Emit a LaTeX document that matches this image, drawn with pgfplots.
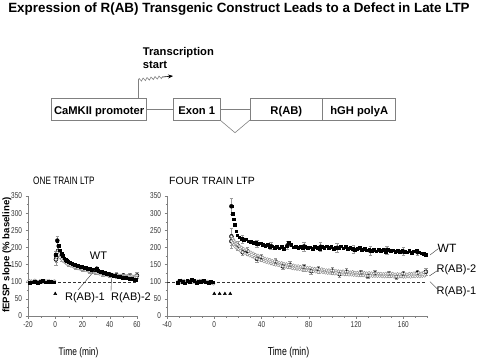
\documentclass[border=0pt]{standalone}
\usepackage{fontspec}
\setmainfont{Liberation Sans}
\newfontfamily\narrow{Liberation Sans}[FakeStretch=0.76]
\usepackage{pgfplots}
\pgfplotsset{compat=1.18}
\usetikzlibrary{decorations.pathmorphing,arrows.meta}
\definecolor{axgray}{HTML}{808080}
\definecolor{ptgray}{HTML}{8A8A8A}
\definecolor{ebgray}{HTML}{9A9A9A}
\definecolor{txtgray}{HTML}{333333}
\begin{document}
\begin{tikzpicture}
\useasboundingbox (0,0) rectangle (480pt,-360pt);
\pgfplotsset{
  ltp/.style={
    scale only axis, height=120pt, ymin=0, ymax=350,
    axis lines*=left, axis line style={axgray, -},
    ytick={0,50,...,350}, minor ytick={25,75,...,325},
    tick align=outside, major tick length=2.5pt, minor tick length=1.5pt,
    tick style={axgray, line width=0.4pt},
    ticklabel style={font=\narrow\fontsize{8.5}{9}\selectfont, text=txtgray},
    /pgf/number format/assume math mode=true,
    clip=false, anchor=south west,
  },
  wt/.style={only marks, mark=square*, mark size=1.35pt, black},
  rab/.style={only marks, mark=*, mark size=1.45pt, draw=ptgray, fill=white, mark options={line width=0.4pt}},
  eb/.style={only marks, mark=none, error bars/.cd, y dir=both, y explicit, error bar style={ebgray, line width=0.45pt}, error mark options={ebgray, mark size=1.7pt, rotate=90}},
}
% ---------------- ONE TRAIN LTP ----------------
\begin{axis}[ltp, at={(28pt,-316pt)}, width=109pt, xmin=-20, xmax=60,
  xtick={-20,0,...,60}, minor xtick={-10,10,...,50}]
\addplot[densely dashed, txtgray, line width=0.4pt] coordinates {(-20,100) (60,100)};
% error bars
\addplot[eb] coordinates {(0.5,165) +- (0,18) (1,172) +- (0,15) (2,190) +- (0,14) (5,169) +- (0,8) (10,153) +- (0,7) (15,144) +- (0,7) (20,138) +- (0,7) (25,133) +- (0,7) (30,128) +- (0,7) (35,124) +- (0,8) (40,121) +- (0,8) (45,119) +- (0,8) (50,118) +- (0,8) (55,117) +- (0,9) (60,118) +- (0,9)};
\addplot[eb] coordinates {(1.5,220) +- (0,14) (0.5,178) +- (0,10) (30.5,138) +- (0,4)};
% R(AB)-2
\addplot[rab] coordinates {(-19.5,99) (-18.5,100) (-17.5,102) (-16.5,98) (-15.5,101) (-14.5,103) (-13.5,100) (-12.5,99) (-11.5,102) (-10.5,101) (-9.5,98) (-8.5,100) (-7.5,102) (-6.5,99) (-5.5,101) (-4.5,103) (-3.5,100) (-2.5,98) (-1.5,101) (-0.5,102)
(1,172) (2,190) (3,182) (4,175) (5,169) (6,164) (7,160) (8,157) (9,155) (10,153) (11,151) (12,149) (13,147) (14,146) (15,144) (16,143) (17,141) (18,140) (19,139) (20,138) (21,137) (22,136) (23,135) (24,134) (25,133) (26,132) (27,131) (28,130) (29,129) (30,128) (31,127) (32,127) (33,126) (34,125) (35,124) (36,124) (37,123) (38,122) (39,122) (40,121) (41,121) (42,120) (43,120) (44,119) (45,119) (46,119) (47,118) (48,118) (49,118) (50,118) (51,117) (52,117) (53,117) (54,117) (55,117) (56,117) (57,116) (58,116) (59,117) (60,118)};
% R(AB)-1
\addplot[rab] coordinates {(-20,101) (-19,103) (-18,100) (-17,99) (-16,102) (-15,104) (-14,101) (-13,100) (-12,98) (-11,102) (-10,103) (-9,100) (-8,99) (-7,101) (-6,102) (-5,100) (-4,98) (-3,101) (-2,99) (-1,100)
(0.5,165) (1.5,185) (2.5,178) (3.5,171) (4.5,166) (5.5,161) (6.5,158) (7.5,155) (8.5,152) (9.5,150) (10.5,148) (11.5,146) (12.5,145) (13.5,143) (14.5,142) (15.5,141) (16.5,139) (17.5,138) (18.5,137) (19.5,136) (20.5,135) (21.5,134) (22.5,133) (23.5,132) (24.5,131) (25.5,130) (26.5,129) (27.5,128) (28.5,127) (29.5,126) (30.5,125) (31.5,124) (32.5,123) (33.5,123) (34.5,122) (35.5,121) (36.5,120) (37.5,120) (38.5,119) (39.5,118) (40.5,118) (41.5,117) (42.5,117) (43.5,116) (44.5,116) (45.5,116) (46.5,115) (47.5,115) (48.5,115) (49.5,114) (50.5,114) (51.5,114) (52.5,114) (53.5,113) (54.5,113) (55.5,113) (56.5,113) (57.5,112) (58.5,112) (59.5,112)};
% WT
\addplot[wt] coordinates {(-19,97) (-17,99) (-15,101) (-13,98) (-11,100) (-9,102) (-7,99) (-5,100) (-3,101) (-1,99)
(0.5,178) (1.5,220) (2.5,205) (3.5,192) (4.5,182) (5.5,175) (6.5,169) (7.5,165) (8.5,161) (9.5,159) (10.5,157) (11.5,154) (12.5,152) (13.5,151) (14.5,149) (15.5,148) (16.5,147) (17.5,145) (18.5,144) (19.5,143) (20.5,142) (21.5,141) (22.5,140) (23.5,139) (24.5,138) (25.5,138) (26.5,136) (27.5,135) (28.5,135) (29.5,136) (30.5,138) (31.5,133) (32.5,131) (33.5,130) (34.5,129) (35.5,127) (36.5,126) (37.5,124) (38.5,123) (39.5,122) (40.5,120) (41.5,119) (42.5,118) (43.5,117) (44.5,116) (45.5,116) (46.5,115) (47.5,114) (48.5,113) (49.5,112) (50.5,112) (51.5,111) (52.5,110) (53.5,110) (54.5,109) (55.5,108) (56.5,108) (57.5,107) (58.5,106) (59.5,105)};
% tetanus
\addplot[only marks, mark=triangle*, mark size=1.7pt, black] coordinates {(0,65)};
\end{axis}
% ---------------- FOUR TRAIN LTP ----------------
\begin{axis}[ltp, at={(167pt,-316pt)}, width=260pt, xmin=-40, xmax=180,
  xtick={-40,0,...,160}, minor xtick={-30,-20,...,180}]
\addplot[densely dashed, txtgray, line width=0.4pt] coordinates {(-40,100) (180,100)};
% error bars
\addplot[eb] coordinates {(14.5,232) +- (0,25) (20,205) +- (0,14) (28,189) +- (0,12) (40,170) +- (0,10) (52,158) +- (0,10) (64,149) +- (0,10) (76,142) +- (0,10) (88,136) +- (0,10) (100,132) +- (0,10) (112,129) +- (0,10) (124,126) +- (0,9) (136,124) +- (0,9) (148,123) +- (0,9) (160,123) +- (0,9) (172,126) +- (0,9) (179,129) +- (0,10)};
\addplot[eb] coordinates {(14.5,218) +- (0,20) (24,186) +- (0,10) (36,167) +- (0,9) (58,145) +- (0,9) (82,131) +- (0,8) (106,122) +- (0,8) (130,117) +- (0,8) (154,115) +- (0,8)};
\addplot[eb] coordinates {(14.5,320) +- (0,24) (24,224) +- (0,12) (36,210) +- (0,10) (48,204) +- (0,10) (62,206) +- (0,12) (76,203) +- (0,13) (90,202) +- (0,12) (104,199) +- (0,12) (118,194) +- (0,12) (132,190) +- (0,14) (146,193) +- (0,12) (160,188) +- (0,12) (172,186) +- (0,10)};
% R(AB)-2
\addplot[rab] coordinates {(-31,101) (-30,103) (-29,99) (-28,104) (-27,102) (-26,98) (-25,101) (-24,100) (-23,103) (-22,99) (-21,102) (-20,104) (-19,100) (-18,101) (-17,99) (-16,103) (-15,100) (-14,102) (-13,98) (-12,101) (-11,103) (-10,99) (-9,100) (-8,102) (-7,101) (-6,98) (-5,100) (-4,99) (-3,97) (-2,96) (-1,95)
(14.5,232) (15.5,226) (16.5,221) (17.5,216) (18.5,212) (19.5,208) (21,204) (23,200) (25,196) (27,193) (29,189) (31,186) (33,183) (35,179) (37,177) (39,173) (41,171) (43,168) (45,166) (47,164) (49,161) (51,160) (53,158) (55,156) (57,155) (59,153) (61,152) (63,150) (65,149) (67,148) (69,146) (71,146) (73,144) (75,143) (77,142) (79,141) (81,141) (83,139) (85,138) (87,138) (89,136) (91,137) (93,135) (95,134) (97,134) (99,133) (101,132) (103,132) (105,131) (107,130) (109,131) (111,129) (113,129) (115,128) (117,129) (119,127) (121,127) (123,126) (125,127) (127,126) (129,125) (131,126) (133,125) (135,124) (137,125) (139,124) (141,124) (143,123) (145,124) (147,123) (149,124) (151,124) (153,122) (155,123) (157,122) (159,124) (161,123) (163,122) (165,124) (167,123) (169,125) (171,124) (173,126) (175,125) (177,127) (179,129)};
% R(AB)-1
\addplot[rab] coordinates {(-30.5,99) (-29.5,102) (-28.5,100) (-27.5,97) (-26.5,101) (-25.5,103) (-24.5,99) (-23.5,100) (-22.5,102) (-21.5,98) (-20.5,101) (-19.5,103) (-18.5,99) (-17.5,100) (-16.5,102) (-15.5,101) (-14.5,98) (-13.5,100) (-12.5,103) (-11.5,99) (-10.5,101) (-9.5,102) (-8.5,99) (-7.5,100) (-6.5,98) (-5.5,101) (-4.5,99) (-3.5,97) (-2.5,98) (-1.5,96) (-0.5,94)
(14.5,218) (15.5,213) (16.5,208) (17.5,203) (18.5,199) (19.5,196) (20.5,194) (22,190) (24,186) (26,183) (28,179) (30,176) (32,173) (34,170) (36,167) (38,164) (40,162) (42,159) (44,157) (46,155) (48,153) (50,151) (52,149) (54,148) (56,146) (58,145) (60,143) (62,142) (64,141) (66,139) (68,138) (70,137) (72,136) (74,135) (76,134) (78,133) (80,132) (82,131) (84,130) (86,129) (88,128) (90,128) (92,127) (94,126) (96,125) (98,125) (100,124) (102,123) (104,123) (106,122) (108,122) (110,121) (112,121) (114,120) (116,120) (118,119) (120,119) (122,118) (124,118) (126,118) (128,117) (130,117) (132,117) (134,116) (136,116) (138,116) (140,116) (142,115) (144,115) (146,115) (148,115) (150,116) (152,114) (154,115) (156,114) (158,115) (160,114) (162,114) (164,115) (166,114) (168,115) (170,115) (172,116) (174,115) (176,116) (178,117)};
% WT
\addplot[wt] coordinates {(-31,98) (-29,104) (-27,101) (-25,96) (-23,103) (-21,100) (-19,105) (-17,102) (-15,97) (-13,101) (-11,100) (-9,103) (-7,99) (-5,98) (-3,101) (-1,99)
(14.5,320) (15.5,298) (16.5,282) (17.5,266) (18.5,247) (19.5,236) (21,230) (23,226) (25,222) (27,224) (29,218) (31,216) (33,214) (35,215) (37,210) (39,212) (41,207) (43,205) (45,209) (47,201) (49,204) (51,200) (53,203) (55,198) (57,202) (59,197) (61,204) (63,214) (65,208) (67,201) (69,203) (71,199) (73,202) (75,198) (77,203) (79,200) (81,201) (83,197) (85,203) (87,200) (89,197) (91,202) (93,199) (95,204) (97,200) (99,203) (101,196) (103,200) (105,198) (107,204) (109,198) (111,202) (113,196) (115,200) (117,197) (119,193) (121,196) (123,199) (125,193) (127,197) (129,192) (131,195) (133,190) (135,194) (137,189) (139,193) (141,190) (143,194) (145,188) (147,193) (149,190) (151,192) (153,188) (155,191) (157,187) (159,190) (161,188) (163,186) (165,190) (167,185) (169,189) (171,191) (173,186) (175,183) (177,181) (179,178)};
% tetanus trains
\addplot[only marks, mark=triangle*, mark size=1.7pt, black] coordinates {(0,65) (4.5,65) (9,65) (13.5,65)};
\end{axis}
% ---------------- texts and construct diagram ----------------
\begin{scope}[x=1pt, y=-1pt]
\node[anchor=base, font=\bfseries\fontsize{13.4}{15}\selectfont, inner sep=0pt] at (239,12.7) {Expression of R(AB) Transgenic Construct Leads to a Defect in Late LTP};
% construct
\begin{scope}[axgray, line width=0.6pt]
\draw (51.7,98.3) rectangle (146.7,120);
\draw (146.7,109.3) -- (173.3,109.3);
\draw (173.3,98.3) rectangle (220,120);
\draw (220,109.3) -- (250,109.3);
\draw (220,120) -- (235,132.7) -- (250,120);
\draw (250,98.3) rectangle (322.7,120);
\draw (322.7,98.3) rectangle (395.7,120);
\draw (138.3,98.3) -- (138.3,80);
\draw[decorate, decoration={zigzag, segment length=4pt, amplitude=1.4pt}] (138.3,80) -- (163,77);
\end{scope}
\draw[black, line width=0.6pt, -{Stealth[length=5pt,width=4pt]}] (162.5,77) -- (173,76);
\begin{scope}[font=\bfseries\fontsize{11.2}{13}\selectfont, inner sep=0pt]
\node[anchor=base west] at (142.7,55) {Transcription};
\node[anchor=base west] at (142.7,68.3) {start};
\node[anchor=base] at (99.2,114) {CaMKII promoter};
\node[anchor=base] at (196.7,114) {Exon 1};
\node[anchor=base] at (286.3,114) {R(AB)};
\node[anchor=base] at (359.2,114) {hGH polyA};
\end{scope}
% panel titles
\node[anchor=west, inner sep=0pt, font=\narrow\fontsize{10.8}{12}\selectfont] at (33,181) {ONE TRAIN LTP};
\node[anchor=west, inner sep=0pt, font=\fontsize{10.5}{12}\selectfont] at (169,181) {FOUR TRAIN LTP};
% y label
\node[rotate=90, inner sep=0pt, font=\bfseries\fontsize{9.6}{11}\selectfont] at (7,255) {fEPSP slope (\% baseline)};
% x labels
\node[inner sep=0pt, font=\narrow\fontsize{11}{12}\selectfont] at (78.5,353) {Time (min)};
\node[inner sep=0pt, font=\narrow\fontsize{11.5}{12}\selectfont] at (288.5,353) {Time (min)};
% annotations
\begin{scope}[font=\fontsize{11}{13}\selectfont, inner sep=0pt]
\node at (98.5,256) {WT};
\node at (85,298) {R(AB)-1};
\node at (131,298) {R(AB)-2};
\node at (447,248) {\fontsize{12}{14}\selectfont WT};
\node at (456.5,270) {R(AB)-2};
\node at (456.5,292) {R(AB)-1};
\end{scope}
\begin{scope}[txtgray, line width=0.4pt]
\draw (78,290) -- (95,270);
\draw (111,291) -- (111.5,278);
\draw (430,255) -- (438.5,248.5);
\draw (429.3,276) -- (437.5,270.5);
\draw (430,281.7) -- (437.5,289);
\end{scope}
\end{scope}
\end{tikzpicture}
\end{document}
